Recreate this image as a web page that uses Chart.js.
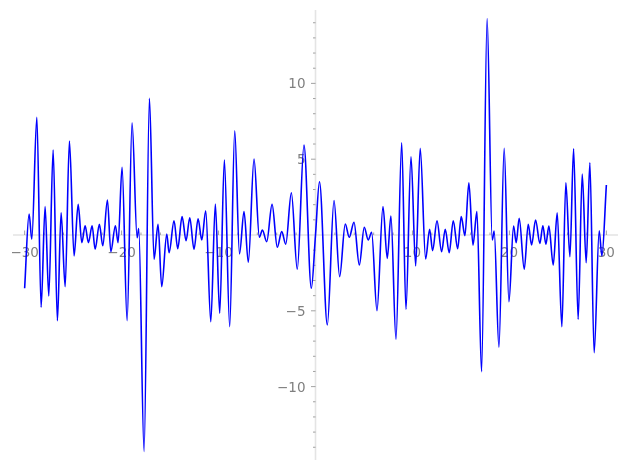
<!DOCTYPE html>
<html><head><meta charset="utf-8">
<script src="https://cdn.jsdelivr.net/npm/chart.js@4"></script>
<style>html,body{margin:0;padding:0;background:#fff}canvas{display:block}</style>
</head><body>
<canvas id="c" width="627" height="470"></canvas>
<script>
const xValues = [
 -30, -29.54, -29.26, -28.74, -28.30, -27.89, -27.51, -27.06, -26.62, -26.24,
 -25.82, -25.38, -24.90, -24.48, -24.10, -23.76, -23.42, -23.04, -22.73, -22.29,
 -21.94, -21.46, -21.11, -20.64, -20.36, -19.95, -19.43, -18.92, -18.40, -18.23,
 -17.68, -17.13, -16.65, -16.24, -15.86, -15.34, -15.10, -14.59, -14.21, -13.76,
 -13.35, -12.97, -12.53, -12.11, -11.73, -11.32, -10.80, -10.33, -9.88, -9.40,
 -8.85, -8.33, -7.84, -7.37, -6.93, -6.34, -5.79, -5.48, -5.03, -4.48,
 -3.94, -3.48, -3.07, -2.49, -1.88, -1.19, -0.43, 0, 0.41, 1.22,
 1.91, 2.49, 3.07, 3.48, 3.97, 4.52, 5.03, 5.44, 5.79, 6.34,
 6.96, 7.40, 7.78, 8.30, 8.89, 9.33, 9.85, 10.33, 10.80, 11.36,
 11.77, 12.08, 12.53, 13.01, 13.38, 13.79, 14.21, 14.66, 15.03, 15.41,
 15.82, 16.24, 16.65, 17.13, 17.70, 18.23, 18.43, 18.92, 19.46, 19.95,
 20.43, 20.70, 21.01, 21.53, 21.94, 22.29, 22.70, 23.14, 23.45, 23.76,
 24.07, 24.52, 24.93, 25.41, 25.82, 26.24, 26.62, 27.09, 27.51, 27.92,
 28.30, 28.74, 29.26, 29.54, 30
];
const yValues = [
 -3.51, 1.38, -0.28, 7.76, -4.77, 1.87, -4.02, 5.60, -5.65, 1.47,
 -3.41, 6.20, -1.38, 2.02, -0.51, 0.61, -0.51, 0.61, -0.94, 0.71,
 -0.71, 2.31, -1.10, 0.61, -0.51, 4.46, -5.65, 7.40, -0.18, 0.42,
 -14.28, 9.01, -1.60, 0.71, -3.41, 0.07, -1.17, 0.94, -0.90, 1.21,
 -0.38, 1.14, -0.94, 1.07, -0.33, 1.60, -5.72, 2.04, -5.16, 4.94,
 -6.04, 6.88, -1.25, 1.54, -1.80, 5.01, -0.15, 0.33, -0.44, 2.02,
 -0.81, 0.22, -0.61, 2.79, -2.26, 5.93, -3.51, 0, 3.51, -5.93,
 2.28, -2.75, 0.73, -0.15, 0.84, -1.98, 0.51, -0.33, 0.18, -4.99,
 1.87, -1.54, 1.25, -6.88, 6.08, -4.90, 5.16, -2.04, 5.72, -1.58,
 0.38, -1.03, 0.94, -1.10, 0.38, -1.17, 0.94, -0.90, 1.21, -0.05,
 3.45, -0.66, 1.54, -9.01, 14.28, -0.33, 0.26, -7.40, 5.72, -4.40,
 0.59, -0.51, 1.10, -2.26, 0.71, -0.66, 0.99, -0.55, 0.61, -0.61,
 0.59, -1.98, 1.47, -6.04, 3.45, -1.43, 5.69, -5.56, 4.02, -1.83,
 4.77, -7.76, 0.28, -1.38, 3.30
];
const xTickLabels = [-30, -20, -10, 10, 20, 30];
const yTickLabels = [-10, -5, 5, 10];
const xMinorTicks = [-28,-26,-24,-22,-18,-16,-14,-12,-8,-6,-4,-2,2,4,6,8,12,14,16,18,22,24,26,28];
const yMinorTicks = [-14,-13,-12,-11,-9,-8,-7,-6,-4,-3,-2,-1,1,2,3,4,6,7,8,9,11,12,13,14];

function fmt(v){ return (v < 0 ? '\u2212' : '') + Math.abs(v); }

const axesPlugin = {
  id: 'originAxes',
  beforeDatasetsDraw(chart) {
    const {ctx, chartArea: a, scales: {x, y}} = chart;
    const x0 = x.getPixelForValue(0), y0 = y.getPixelForValue(0);
    ctx.save();
    ctx.strokeStyle = '#e4e4e4'; ctx.lineWidth = 1.6;
    ctx.beginPath();
    ctx.moveTo(a.left, y0); ctx.lineTo(a.right, y0);
    ctx.moveTo(x0, a.top); ctx.lineTo(x0, a.bottom);
    ctx.stroke();
    ctx.strokeStyle = '#8a8a8a'; ctx.lineWidth = 0.8;
    ctx.beginPath();
    xTickLabels.forEach(v => { const p = x.getPixelForValue(v); ctx.moveTo(p, y0); ctx.lineTo(p, y0 - 4.5); });
    xMinorTicks.forEach(v => { const p = x.getPixelForValue(v); ctx.moveTo(p, y0); ctx.lineTo(p, y0 - 2.5); });
    yTickLabels.forEach(v => { const p = y.getPixelForValue(v); ctx.moveTo(x0, p); ctx.lineTo(x0 - 4.5, p); });
    yMinorTicks.forEach(v => { const p = y.getPixelForValue(v); ctx.moveTo(x0, p); ctx.lineTo(x0 - 2.5, p); });
    ctx.stroke();
    ctx.fillStyle = '#7f7f7f';
    ctx.font = '13.5px "DejaVu Sans"';
    ctx.textBaseline = 'alphabetic';
    ctx.textAlign = 'center';
    xTickLabels.forEach(v => ctx.fillText(fmt(v), x.getPixelForValue(v), y0 + 21.5));
    ctx.textAlign = 'right';
    yTickLabels.forEach(v => ctx.fillText(fmt(v), x0 - 10, y.getPixelForValue(v) + 5));
    ctx.restore();
  }
};

new Chart(document.getElementById('c'), {
  type: 'line',
  data: {
    datasets: [{
      data: xValues.map((v, i) => ({x: v, y: yValues[i]})),
      borderColor: '#0000ff',
      borderWidth: 1.6,
      pointRadius: 0,
      fill: false,
      cubicInterpolationMode: 'monotone'
    }]
  },
  options: {
    responsive: false,
    animation: false,
    devicePixelRatio: 1,
    layout: {padding: {left: 13, right: 9, top: 10, bottom: 10}},
    plugins: {legend: {display: false}, tooltip: {enabled: false}},
    scales: {
      x: {type: 'linear', min: -31.2, max: 31.2, display: false},
      y: {type: 'linear', min: -14.84, max: 14.84, display: false}
    }
  },
  plugins: [axesPlugin]
});
</script>
</body></html>
